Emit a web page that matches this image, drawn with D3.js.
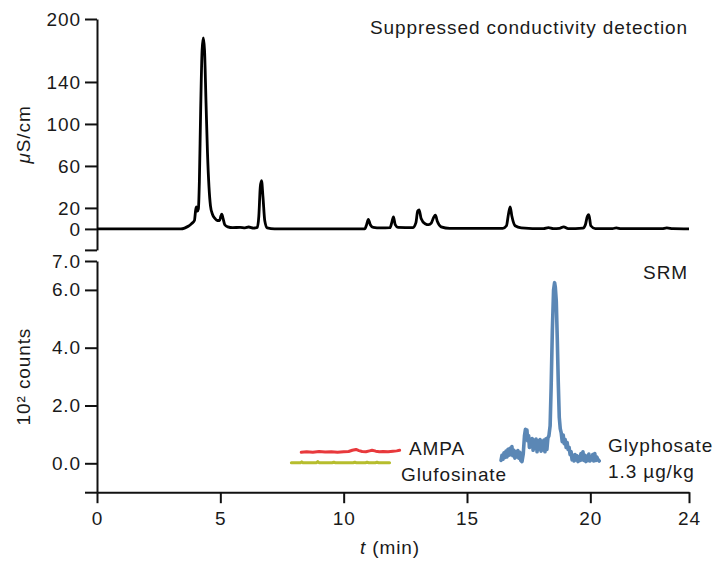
<!DOCTYPE html>
<html>
<head>
<meta charset="utf-8">
<script src="https://cdn.jsdelivr.net/npm/d3@7"></script>
<style>
	body { margin: 0; background: #fff; }
	svg text { font-family: "Liberation Sans", Arial, Helvetica, sans-serif; fill: #1a1a1a; }
</style>
</head>
<body>
<div id="chart"></div>
<script>
// x ticks (min)
var timeTicks = [0, 5, 10, 15, 20, 24];

// top panel: suppressed conductivity (uS/cm)
var condTicks = [200, 140, 100, 60, 20, 0, -20];
var condTime = [0, 3.4, 3.55, 3.7, 3.83, 3.95, 4.0, 4.03, 4.07, 4.11, 4.15, 4.2, 4.26, 4.31, 4.36, 4.42, 4.48, 4.54, 4.6, 4.68, 4.78, 4.88, 4.97, 5.02, 5.06, 5.11, 5.18, 5.3, 5.5, 5.8, 6.0, 6.15, 6.35, 6.5, 6.56, 6.62, 6.67, 6.73, 6.8, 6.9, 7.2,
	10.85, 10.93, 11.0, 11.08, 11.2, 11.5, 11.88, 11.95, 12.02, 12.09, 12.2, 12.8, 12.93, 13.0, 13.06, 13.14, 13.3, 13.45, 13.55, 13.65, 13.72, 13.8, 13.95, 14.3,
	16.45, 16.6, 16.68, 16.75, 16.82, 16.95, 17.2, 18.1, 18.3, 18.5, 18.75, 18.92, 19.1, 19.7, 19.8, 19.88, 19.94, 20.02, 20.2, 20.9, 21.05, 21.25, 22.9, 23.1, 23.35, 24];
var condValue = [0, 0, 0.8, 2.5, 5, 8, 18, 21, 17, 19, 45, 110, 170, 182, 170, 120, 72, 40, 22, 14, 10, 8, 8, 12, 14, 10, 4, 2, 1.2, 1.5, 1, 1.8, 0.8, 1.5, 12, 40, 46, 30, 8, 1, 0,
	0, 4, 9, 4, 1.5, 1, 1.2, 6, 11.5, 4, 1.5, 1.2, 6, 17, 18, 10, 5, 4, 5.5, 11, 13, 7, 2, 0.5,
	0.5, 3, 14, 21, 12, 3, 1, 0.2, 1.2, 0.3, 0.5, 2, 0.3, 0.8, 4, 12, 13.5, 3, 0.3, 0.2, 1, 0.2, 0.2, 1, 0.2, 0];

// bottom panel: SRM (10^2 counts)
var srmTicks = [7, 6, 4, 2, 0, -1];

var ampaTime = [8.28, 8.5, 8.75, 9.0, 9.25, 9.5, 9.75, 10.0, 10.2, 10.35, 10.5, 10.62, 10.75, 10.9, 11.05, 11.15, 11.3, 11.45, 11.6, 11.8, 12.0, 12.15, 12.27];
var ampaValue = [0.38, 0.40, 0.38, 0.41, 0.39, 0.40, 0.38, 0.40, 0.41, 0.45, 0.48, 0.44, 0.41, 0.40, 0.43, 0.45, 0.42, 0.40, 0.41, 0.40, 0.42, 0.43, 0.45];

var glufTime = [7.88, 8.25, 8.3, 8.35, 8.9, 8.95, 9.0, 9.55, 9.6, 9.65, 10.4, 10.45, 10.5, 10.9, 10.95, 11.0, 11.3, 11.35, 11.4, 11.86];
var glufValue = [0.02, 0.02, 0.05, 0.02, 0.02, 0.06, 0.02, 0.02, 0.04, 0.02, 0.02, 0.04, 0.02, 0.02, 0.04, 0.02, 0.02, 0.04, 0.02, 0.02];

var glyTime = [16.38, 16.42, 16.46, 16.5, 16.54, 16.58, 16.62, 16.66, 16.7, 16.74, 16.78, 16.82, 16.86, 16.9, 16.94, 16.98, 17.02, 17.06, 17.1, 17.14, 17.18, 17.23, 17.28, 17.33, 17.37, 17.4, 17.43, 17.46, 17.5, 17.53, 17.57, 17.6, 17.64, 17.68, 17.72, 17.76, 17.8, 17.84, 17.88, 17.92, 17.96, 18.0, 18.04, 18.08, 18.12, 18.16, 18.2, 18.24, 18.28, 18.32, 18.37, 18.41, 18.46, 18.51, 18.55, 18.58, 18.62, 18.66, 18.7, 18.74, 18.78, 18.82, 18.86, 18.9, 18.94, 18.98, 19.02, 19.06, 19.1, 19.14, 19.18, 19.22, 19.26, 19.3, 19.34, 19.38, 19.42, 19.46, 19.5, 19.54, 19.58, 19.62, 19.66, 19.7, 19.74, 19.78, 19.82, 19.86, 19.9, 19.94, 19.98, 20.02, 20.06, 20.1, 20.14, 20.18, 20.22, 20.26, 20.3, 20.36];
var glyValue = [0.10, 0.28, 0.14, 0.36, 0.20, 0.42, 0.22, 0.48, 0.28, 0.52, 0.30, 0.58, 0.26, 0.45, 0.18, 0.40, 0.22, 0.44, 0.18, 0.38, 0.10, 0.06, 0.32, 0.95, 1.18, 1.02, 1.15, 0.78, 0.95, 0.55, 0.82, 0.58, 0.86, 0.45, 0.80, 0.52, 0.84, 0.40, 0.78, 0.50, 0.82, 0.42, 0.76, 0.46, 0.80, 0.40, 0.85, 0.48, 0.88, 0.95, 1.30, 2.60, 4.60, 6.00, 6.25, 6.10, 5.60, 4.30, 2.80, 1.60, 1.20, 1.05, 0.75, 0.98, 0.68, 0.82, 0.55, 0.72, 0.48, 0.55, 0.30, 0.40, 0.12, 0.28, 0.08, 0.30, 0.12, 0.26, 0.06, 0.22, 0.10, 0.34, 0.12, 0.40, 0.10, 0.28, 0.06, 0.24, 0.10, 0.32, 0.08, 0.22, 0.12, 0.30, 0.08, 0.34, 0.10, 0.22, 0.14, 0.08];

var width = 715,
	height = 561;

var fontSize = 19,
	spacing = 0.9;

var svg = d3.select("#chart")
	.append("svg")
		.attr("width", width)
		.attr("height", height);

var x = d3.scaleLinear().domain([0, 24]).range([97, 689]);
var yTop = d3.scaleLinear().domain([-20, 200]).range([249.9, 19]);
var yBot = d3.scaleLinear().domain([-1, 7]).range([492.2, 261]);

function zip(t, v) {
	return t.map(function(d, i) { return [d, v[i]]; });
}

function styleAxis(g) {
	g.attr("font-size", null).attr("font-family", null);
	g.select(".domain").attr("stroke", "#111").attr("stroke-width", 2);
	g.selectAll(".tick line").attr("stroke", "#111").attr("stroke-width", 2);
	g.selectAll(".tick text")
		.style("font-size", fontSize + "px")
		.style("letter-spacing", spacing + "px")
		.attr("fill", "#1a1a1a");
}

// axes
svg.append("g")
	.attr("transform", "translate(97,0)")
	.call(d3.axisLeft(yTop)
		.tickValues(condTicks)
		.tickSize(12)
		.tickSizeOuter(0)
		.tickPadding(4)
		.tickFormat(function(d) { return d < 0 ? "" : d; }))
	.call(styleAxis);

svg.append("g")
	.attr("transform", "translate(97,0)")
	.call(d3.axisLeft(yBot)
		.tickValues(srmTicks)
		.tickSize(12)
		.tickSizeOuter(0)
		.tickPadding(4)
		.tickFormat(function(d) { return d < 0 ? "" : d3.format(".1f")(d); }))
	.call(styleAxis);

svg.append("g")
	.attr("transform", "translate(0," + yBot(-1) + ")")
	.call(d3.axisBottom(x)
		.tickValues(timeTicks)
		.tickSize(11)
		.tickSizeOuter(0)
		.tickPadding(8))
	.call(styleAxis);

// traces
var line = d3.line()
	.x(function(d) { return x(d[0]); });

svg.append("path")
	.datum(zip(condTime, condValue))
	.attr("fill", "none")
	.attr("stroke", "#000")
	.attr("stroke-width", 2.8)
	.attr("stroke-linejoin", "round")
	.attr("d", line.y(function(d) { return yTop(d[1]); }).curve(d3.curveMonotoneX));

var srm = [
	{t: glufTime, v: glufValue, color: "#b6bd2d", w: 3},
	{t: ampaTime, v: ampaValue, color: "#e8393c", w: 3},
	{t: glyTime, v: glyValue, color: "#5b87b5", w: 3.6}
];

srm.forEach(function(s) {
	svg.append("path")
		.datum(zip(s.t, s.v))
		.attr("fill", "none")
		.attr("stroke", s.color)
		.attr("stroke-width", s.w)
		.attr("stroke-linejoin", "round")
		.attr("stroke-linecap", "round")
		.attr("d", line.y(function(d) { return yBot(d[1]); }).curve(d3.curveLinear));
});

// labels
var labels = [
	{text: "Suppressed conductivity detection", x: 688, y: 33.5, anchor: "end"},
	{text: "SRM", x: 688, y: 279, anchor: "end"},
	{text: "AMPA", x: 409, y: 455, anchor: "start"},
	{text: "Glufosinate", x: 401, y: 480.5, anchor: "start"},
	{text: "Glyphosate", x: 608, y: 451.5, anchor: "start"},
	{text: "1.3 \u00b5g/kg", x: 608, y: 477.5, anchor: "start"}
];

svg.selectAll("text.note")
	.data(labels)
	.enter().append("text")
		.attr("class", "note")
		.attr("x", function(d) { return d.x; })
		.attr("y", function(d) { return d.y; })
		.attr("text-anchor", function(d) { return d.anchor; })
		.style("font-size", fontSize + "px")
		.style("letter-spacing", spacing + "px")
		.text(function(d) { return d.text; });

var yLabelTop = svg.append("text")
	.attr("transform", "translate(30," + ((yTop(200) + yTop(-20)) / 2) + ") rotate(-90)")
	.attr("text-anchor", "middle")
	.style("font-size", fontSize + "px")
	.style("letter-spacing", spacing + "px");
yLabelTop.append("tspan").style("font-style", "italic").text("\u03bc");
yLabelTop.append("tspan").text("S/cm");

svg.append("text")
	.attr("transform", "translate(30," + ((yBot(7) + yBot(-1)) / 2) + ") rotate(-90)")
	.attr("text-anchor", "middle")
	.style("font-size", fontSize + "px")
	.style("letter-spacing", spacing + "px")
	.text("10\u00b2 counts");

var xLabel = svg.append("text")
	.attr("x", 390)
	.attr("y", 554)
	.attr("text-anchor", "middle")
	.style("font-size", fontSize + "px")
	.style("letter-spacing", spacing + "px");
xLabel.append("tspan").style("font-style", "italic").text("t");
xLabel.append("tspan").text(" (min)");
</script>
</body>
</html>
